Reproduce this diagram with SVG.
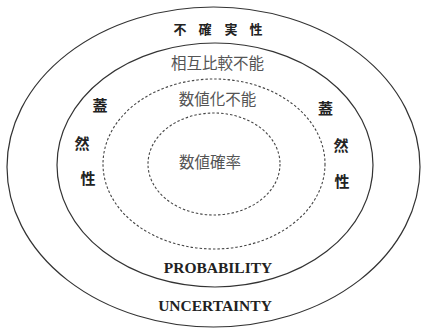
<svg xmlns="http://www.w3.org/2000/svg" width="421" height="328" viewBox="0 0 421 328">
<style>
.solid{fill:none;stroke:#333;stroke-width:1.2}
.dash{fill:none;stroke:#444;stroke-width:1.1;stroke-dasharray:2.5 2}
.jb{font-family:"Noto Sans CJK JP","Noto Sans CJK SC",sans-serif;font-weight:bold;fill:#222;text-anchor:middle}
.jg{font-family:"Noto Sans CJK JP","Noto Sans CJK SC",sans-serif;fill:#555;font-size:15.5px;text-anchor:middle}
.en{font-family:"Liberation Serif",serif;font-weight:bold;fill:#222;font-size:15.5px;text-anchor:middle}
</style>
<rect width="421" height="328" fill="#fff"/>
<g id="uncertainty">
<ellipse class="solid" cx="213.5" cy="167" rx="206.5" ry="160"/>
<text class="jb" font-size="13" y="34"><tspan x="180">不</tspan><tspan x="205">確</tspan><tspan x="231">実</tspan><tspan x="256">性</tspan></text>
<text class="en" x="215" y="311">UNCERTAINTY</text>
</g>
<g id="probability">
<ellipse class="solid" cx="215" cy="165" rx="158" ry="122"/>
<text class="jg" x="217.5" y="69">相互比較不能</text>
<text class="en" x="218" y="273">PROBABILITY</text>
<g class="jb" font-size="15">
<text x="100" y="111">蓋</text>
<text x="82" y="149">然</text>
<text x="88" y="184">性</text>
<text x="325.5" y="114">蓋</text>
<text x="341" y="151">然</text>
<text x="342" y="187">性</text>
</g>
</g>
<g id="non-numeric">
<ellipse class="dash" cx="214" cy="164" rx="111" ry="85"/>
<text class="jg" x="217.5" y="105">数値化不能</text>
</g>
<g id="numeric">
<ellipse class="dash" cx="214" cy="164" rx="66" ry="51"/>
<text class="jg" x="210" y="168">数値確率</text>
</g>
<g id="connectors"/>
</svg>
